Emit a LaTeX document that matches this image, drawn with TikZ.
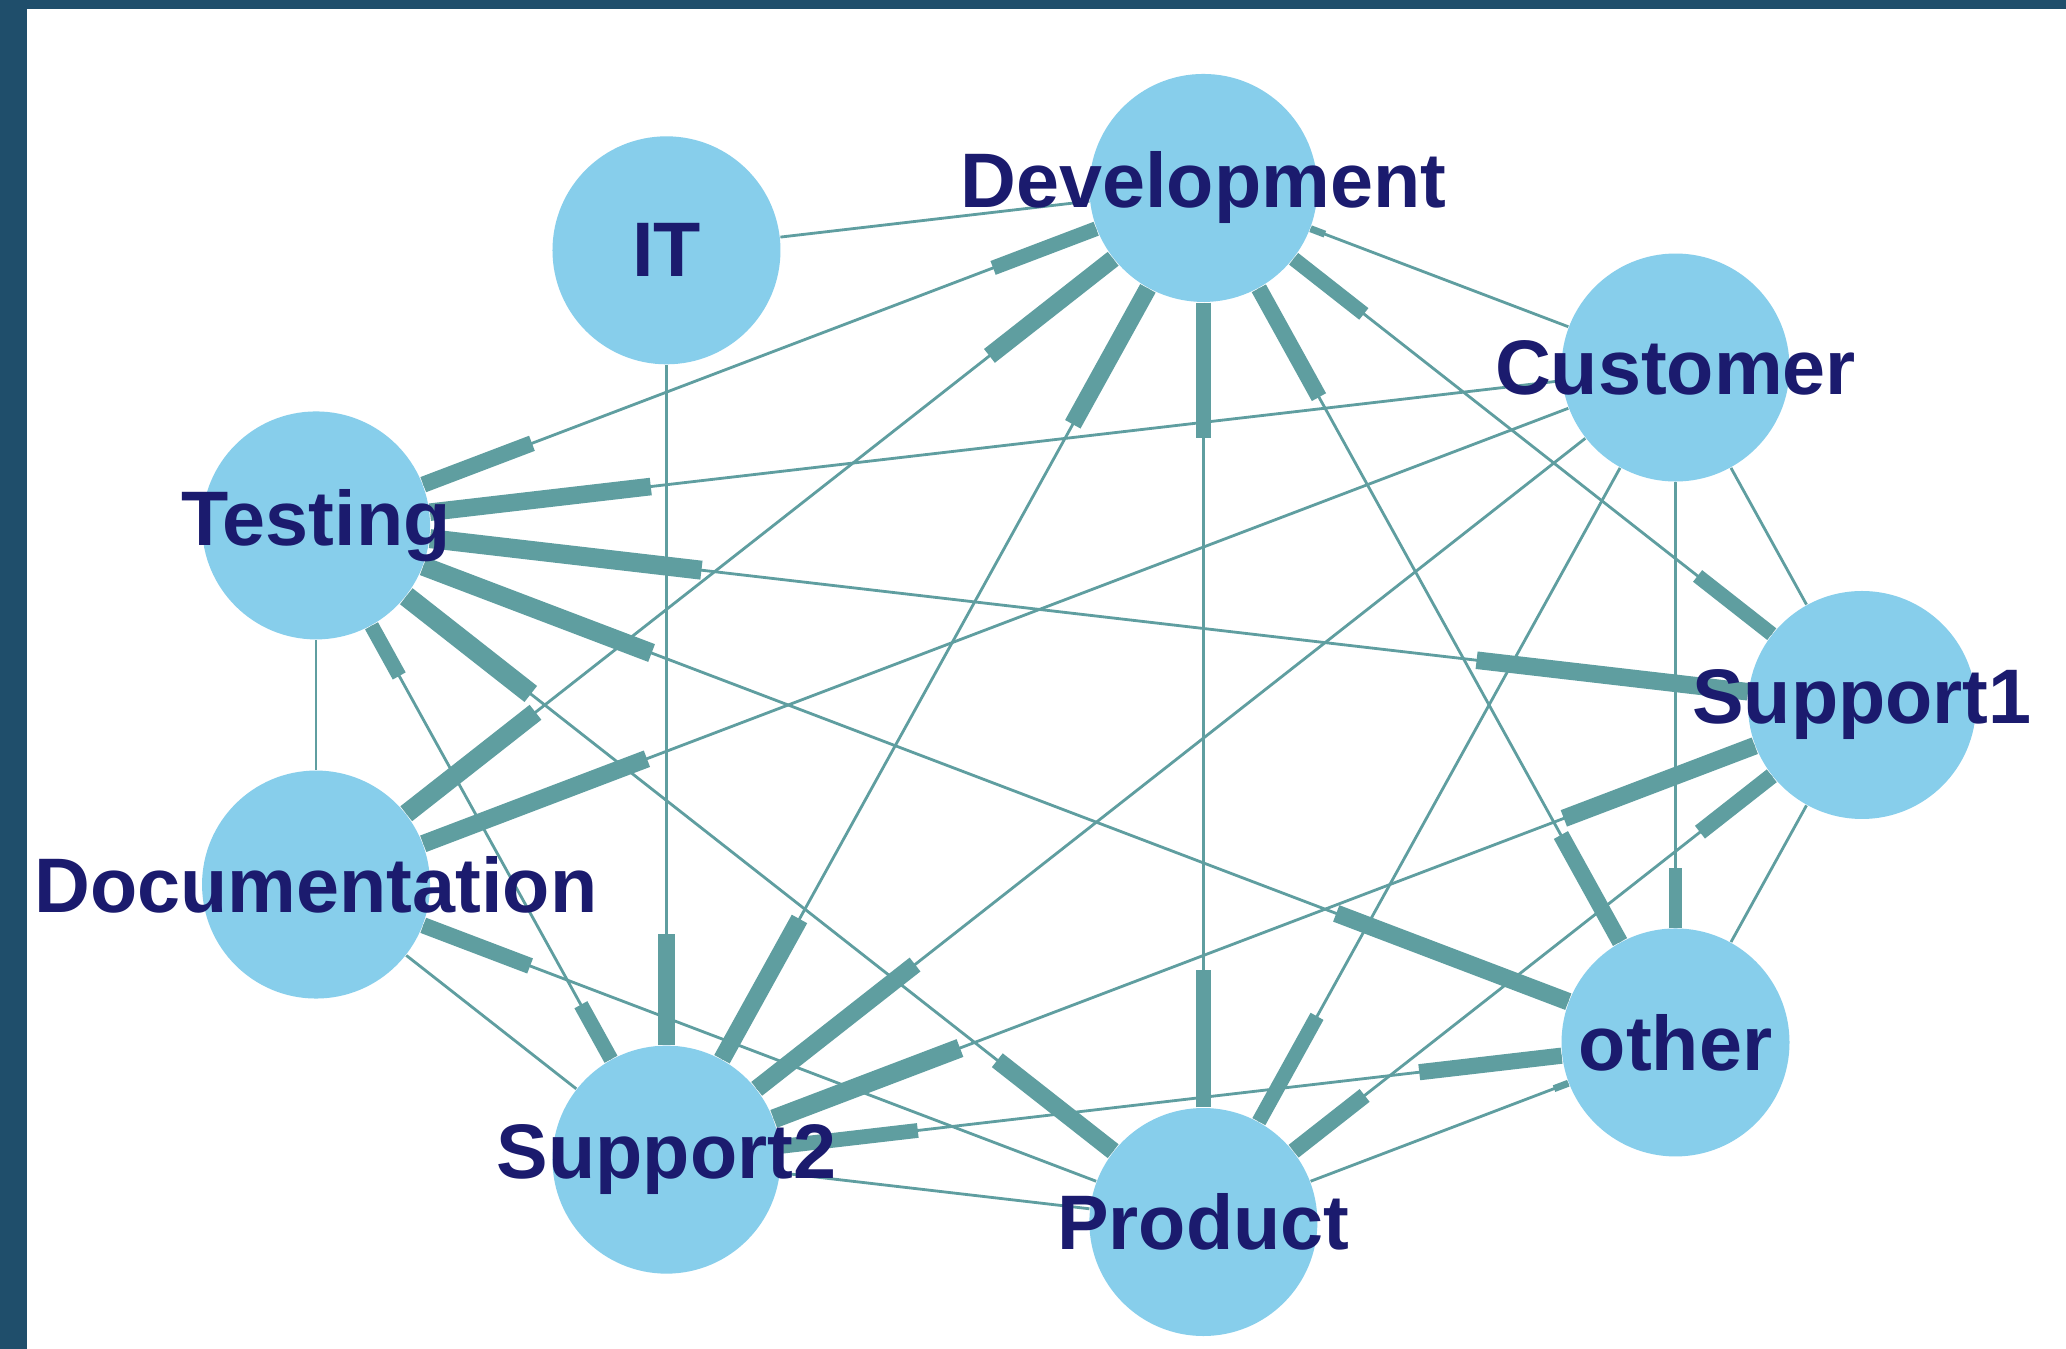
\documentclass[tikz,border=0pt]{standalone}
\usepackage{fontspec}
\setmainfont{Liberation Sans}
\usetikzlibrary{calc,backgrounds}
\definecolor{framec}{HTML}{1F4E6B}
\definecolor{vfill}{HTML}{87CEEB}
\definecolor{vtext}{HTML}{1B1B6E}
\definecolor{edgec}{HTML}{5F9EA0}

\begin{document}
\begin{tikzpicture}[vtx/.style={circle,fill=vfill,inner sep=0pt,minimum size=2.28cm,label={[lbl]center:#1}},
						lbl/.style={text=vtext,font=\fontsize{22}{26}\selectfont\bfseries},
						link/.style={draw=edgec,line width=0.8pt},
						arw/.style={draw=edgec,line width=#1}]
		\useasboundingbox (-10.65,7.05) rectangle (10.01,-6.44);

		\node[vtx=Support1]			(sup1)	at (0:7.97cm and 5.25cm)	{};
		\node[vtx=Customer]			(cus)	at (40:7.97cm and 5.25cm)	{};
		\node[vtx=Development]		(dev)	at (80:7.97cm and 5.25cm)	{};
		\node[vtx=IT]				(it)	at (120:7.97cm and 5.25cm)	{};
		\node[vtx=Testing]			(tes)	at (160:7.97cm and 5.25cm)	{};
		\node[vtx=Documentation]	(doc)	at (200:7.97cm and 5.25cm)	{};
		\node[vtx=Support2]			(sup2)	at (240:7.97cm and 5.25cm)	{};
		\node[vtx=Product]			(pro)	at (280:7.97cm and 5.25cm)	{};
		\node[vtx=other]			(oth)	at (320:7.97cm and 5.25cm)	{};

		\begin{pgfonlayer}{background}
		\fill[white] (-10.65,7.05) rectangle (10.01,-6.44);
		\fill[framec] (-10.65,7.05) rectangle (-10.38,-6.44);
		\fill[framec] (-10.65,7.05) rectangle (10.01,6.96);

		% edges
		\draw[link] (it) -- (dev);
		\draw[link] (it) -- (sup2);
		\draw[link] (dev) -- (cus);
		\draw[link] (dev) -- (tes);
		\draw[link] (dev) -- (sup1);
		\draw[link] (dev) -- (doc);
		\draw[link] (dev) -- (sup2);
		\draw[link] (dev) -- (pro);
		\draw[link] (dev) -- (oth);
		\draw[link] (cus) -- (tes);
		\draw[link] (cus) -- (doc);
		\draw[link] (cus) -- (sup1);
		\draw[link] (cus) -- (oth);
		\draw[link] (cus) -- (sup2);
		\draw[link] (cus) -- (pro);
		\draw[link] (tes) -- (doc);
		\draw[link] (tes) -- (sup1);
		\draw[link] (tes) -- (oth);
		\draw[link] (tes) -- (sup2);
		\draw[link] (tes) -- (pro);
		\draw[link] (doc) -- (sup2);
		\draw[link] (doc) -- (pro);
		\draw[link] (sup1) -- (oth);
		\draw[link] (sup1) -- (sup2);
		\draw[link] (sup1) -- (pro);
		\draw[link] (oth) -- (sup2);
		\draw[link] (oth) -- (pro);
		\draw[link] (sup2) -- (pro);

		% heads
		\draw[arw=4.6pt] (tes) -- ($(tes)!2.31cm!(dev)$);
		\draw[arw=4.2pt] (dev) -- ($(dev)!2.25cm!(tes)$);
		\draw[arw=5pt] (tes) -- ($(tes)!3.37cm!(cus)$);
		\draw[arw=5.4pt] (tes) -- ($(tes)!3.88cm!(sup1)$);
		\draw[arw=5pt] (sup1) -- ($(sup1)!3.88cm!(tes)$);
		\draw[arw=5.4pt] (tes) -- ($(tes)!3.59cm!(oth)$);
		\draw[arw=5pt] (oth) -- ($(oth)!3.63cm!(tes)$);
		\draw[arw=5.8pt] (tes) -- ($(tes)!2.73cm!(pro)$);
		\draw[arw=5pt] (pro) -- ($(pro)!2.62cm!(tes)$);
		\draw[arw=4.2pt] (tes) -- ($(tes)!1.72cm!(sup2)$);
		\draw[arw=4.2pt] (sup2) -- ($(sup2)!1.77cm!(tes)$);
		\draw[arw=5.4pt] (doc) -- ($(doc)!2.79cm!(dev)$);
		\draw[arw=5pt] (dev) -- ($(dev)!2.72cm!(doc)$);
		\draw[arw=5pt] (doc) -- ($(doc)!3.54cm!(cus)$);
		\draw[arw=4.6pt] (doc) -- ($(doc)!2.29cm!(pro)$);
		\draw[arw=5pt] (dev) -- ($(dev)!2.70cm!(sup2)$);
		\draw[arw=5pt] (sup2) -- ($(sup2)!2.75cm!(dev)$);
		\draw[arw=4.2pt] (dev) -- ($(dev)!2.50cm!(pro)$);
		\draw[arw=4.2pt] (pro) -- ($(pro)!2.52cm!(dev)$);
		\draw[arw=4.6pt] (dev) -- ($(dev)!2.39cm!(oth)$);
		\draw[arw=4.6pt] (oth) -- ($(oth)!2.37cm!(dev)$);
		\draw[arw=4.2pt] (dev) -- ($(dev)!2.04cm!(sup1)$);
		\draw[arw=4.2pt] (sup1) -- ($(sup1)!2.09cm!(dev)$);
		\draw[arw=3.8pt] (oth) -- ($(oth)!1.74cm!(cus)$);
		\draw[arw=5pt] (sup2) -- ($(sup2)!3.16cm!(cus)$);
		\draw[arw=4.2pt] (pro) -- ($(pro)!2.35cm!(cus)$);
		\draw[arw=5pt] (sup2) -- ($(sup2)!2.26cm!(it)$);
		\draw[arw=5.4pt] (sup2) -- ($(sup2)!3.14cm!(sup1)$);
		\draw[arw=5pt] (sup1) -- ($(sup1)!3.19cm!(sup2)$);
		\draw[arw=4.6pt] (sup1) -- ($(sup1)!2.06cm!(pro)$);
		\draw[arw=4.6pt] (pro) -- ($(pro)!2.05cm!(sup1)$);
		\draw[arw=4.6pt] (oth) -- ($(oth)!2.58cm!(sup2)$);
		\draw[arw=4.2pt] (sup2) -- ($(sup2)!2.53cm!(oth)$);
		\draw[arw=2pt] (dev) -- ($(dev)!1.30cm!(cus)$);
		\draw[arw=2pt] (oth) -- ($(oth)!1.30cm!(pro)$);
		\end{pgfonlayer}
	\end{tikzpicture}
\end{document}
